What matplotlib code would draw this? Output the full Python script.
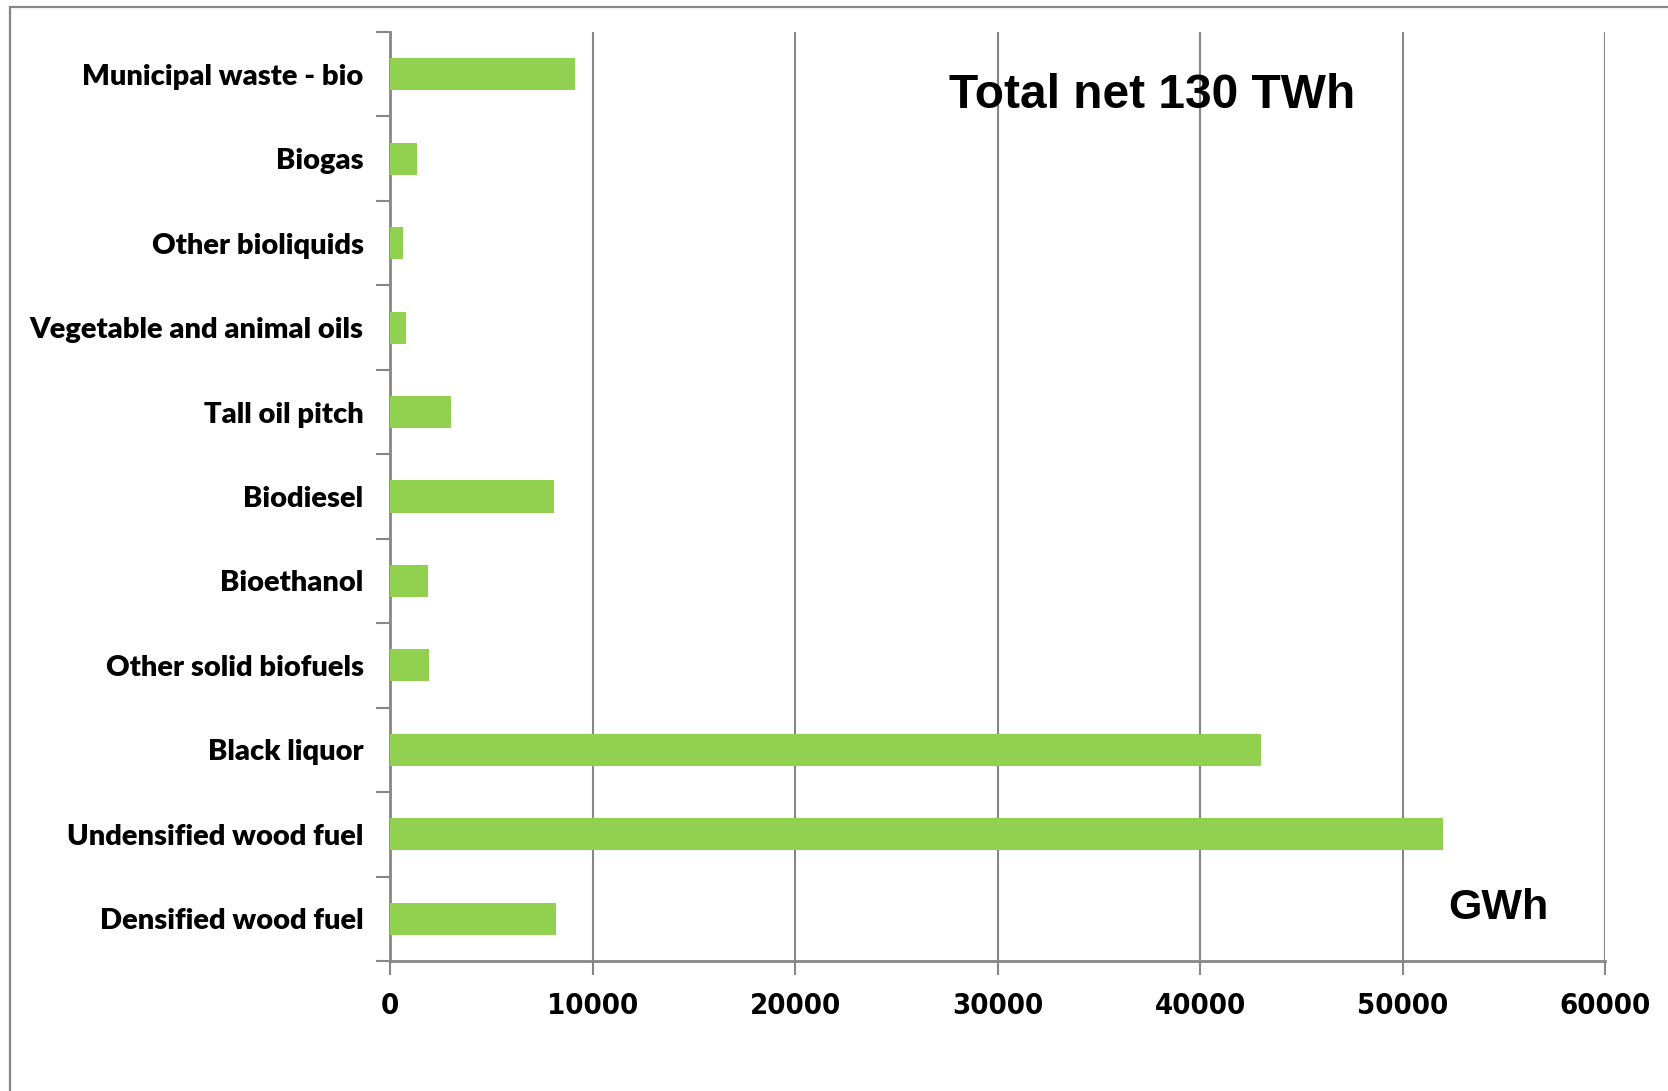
import matplotlib.pyplot as plt
from matplotlib.patches import Rectangle

# data, bottom to top as drawn
categories = ['Densified wood fuel', 'Undensified wood fuel', 'Black liquor',
              'Other solid biofuels', 'Bioethanol', 'Biodiesel', 'Tall oil pitch',
              'Vegetable and animal oils', 'Other bioliquids', 'Biogas',
              'Municipal waste - bio']
gwh = [8200, 52000, 43000, 1950, 1900, 8100, 3000, 800, 650, 1320, 9130]
xticks = [0, 10000, 20000, 30000, 40000, 50000, 60000]

green = '#92D050'
grey = '#868686'

fig = plt.figure(figsize=(16.68, 10.91), dpi=100)

# outer frame of the slide chart (only top and left visible)
fig.patches.append(Rectangle((9.5 / 1668, -0.1), 1.2, 1.1 - 7.5 / 1091,
                             transform=fig.transFigure, fill=False,
                             edgecolor=grey, linewidth=1.6))

ax = fig.add_axes([390 / 1668, 1 - 961 / 1091, 1215 / 1668, 929 / 1091])

y = list(range(len(categories)))
ax.barh(y, gwh, height=0.38, color=green, zorder=3)

ax.set_xlim(0, 60000)
ax.set_ylim(-0.5, len(categories) - 0.5)

ax.set_xticks(xticks)
ax.set_xticklabels([str(t) for t in xticks], fontsize=21, fontweight='bold',
                   family='DejaVu Sans', fontstretch='condensed')
ax.set_yticks(y)
ax.set_yticklabels(categories, fontsize=21, fontweight='heavy', family='Lato')
ax.tick_params(axis='y', length=0, pad=19)
ax.set_yticks([i - 0.5 for i in range(len(categories) + 1)], minor=True)
ax.tick_params(axis='y', which='minor', length=10, width=1.5, color=grey)
ax.tick_params(axis='x', length=10, width=1.5, color=grey, pad=12)

ax.grid(axis='x', color=grey, linewidth=1.5, zorder=0)
for side in ['top', 'right']:
    ax.spines[side].set_visible(False)
for side in ['left', 'bottom']:
    ax.spines[side].set_color(grey)
    ax.spines[side].set_linewidth(2)

fig.text(1152 / 1668, 1 - 96 / 1091, 'Total net 130 TWh', fontsize=34.5,
         fontweight='bold', family='Liberation Sans', ha='center', va='center')
fig.text(1498 / 1668, 1 - 908 / 1091, 'GWh', fontsize=31, fontweight='bold',
         family='Liberation Sans', ha='center', va='center')

fig.savefig('out.png', dpi=100)
